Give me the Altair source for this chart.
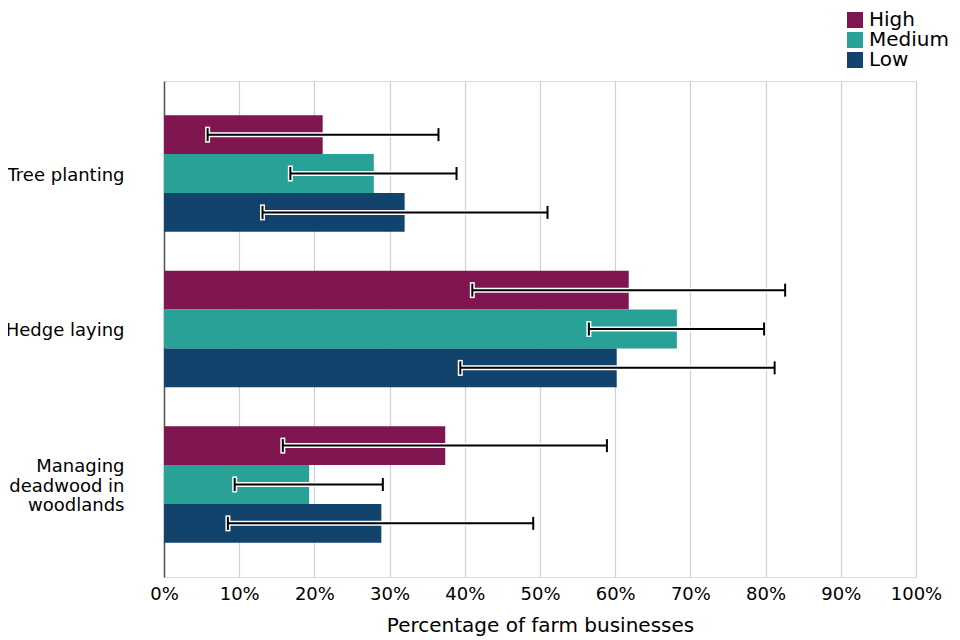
import altair as alt
import pandas as pd

categories = ["Tree planting", "Hedge laying", "Managing deadwood in woodlands"]
levels = ["High", "Medium", "Low"]
colors = ["#801650", "#28A197", "#12436D"]

high_vals = [21.1, 61.8, 37.4]
medium_vals = [27.9, 68.2, 19.3]
low_vals = [32.0, 60.2, 28.9]

high_lo = [5.8, 41.0, 15.8]
medium_lo = [16.8, 56.5, 9.4]
low_lo = [13.1, 39.4, 8.5]

high_hi = [36.5, 82.6, 58.9]
medium_hi = [38.9, 79.8, 29.1]
low_hi = [51.0, 81.2, 49.1]

rows = []
for lvl, vals, los, his in [
    ("High", high_vals, high_lo, high_hi),
    ("Medium", medium_vals, medium_lo, medium_hi),
    ("Low", low_vals, low_lo, low_hi),
]:
    for c, v, lo, hi in zip(categories, vals, los, his):
        rows.append({"category": c, "level": lvl, "value": v, "lo": lo, "hi": hi})
df = pd.DataFrame(rows)

FONT = "DejaVu Sans"

y_enc = alt.Y(
    "category:N",
    sort=categories,
    scale=alt.Scale(paddingInner=0.25, paddingOuter=0.22),
    axis=alt.Axis(
        title=None,
        ticks=False,
        labelPadding=40,
        labelFontSize=18,
        labelFont=FONT,
        labelColor="#000000",
        labelLineHeight=19.5,
        labelLimit=300,
        labelOffset={
            "condition": {
                "test": "datum.value == 'Managing deadwood in woodlands'",
                "value": -17,
            },
            "value": 2,
        },
        domainColor="#555555",
        domainWidth=1.5,
        grid=False,
        labelExpr="datum.value == 'Managing deadwood in woodlands' ? ['Managing', 'deadwood in', 'woodlands'] : datum.label",
    ),
)
yoff_enc = alt.YOffset(
    "level:N", sort=levels, scale=alt.Scale(paddingInner=0, paddingOuter=0)
)

x_scale = alt.Scale(domain=[0, 100])

base = alt.Chart(df)

bars = base.mark_bar().encode(
    x=alt.X(
        "value:Q",
        scale=x_scale,
        axis=alt.Axis(
            title="Percentage of farm businesses",
            values=[0, 10, 20, 30, 40, 50, 60, 70, 80, 90, 100],
            labelExpr="datum.value + '%'",
            ticks=False,
            domain=False,
            grid=True,
            gridColor="#d0d0d0",
            gridWidth=1.2,
            labelFlush=False,
            labelPadding=8,
            labelFontSize=18,
            labelFont=FONT,
            labelColor="#000000",
            titleFont=FONT,
            titleFontSize=20,
            titleFontWeight="normal",
            titleColor="#000000",
            titlePadding=12,
        ),
    ),
    y=y_enc,
    yOffset=yoff_enc,
    color=alt.Color(
        "level:N",
        sort=levels,
        scale=alt.Scale(domain=levels, range=colors),
        legend=alt.Legend(
            title=None,
            orient="none",
            legendX=681,
            legendY=-70,
            symbolType="square",
            symbolSize=256,
            symbolStrokeWidth=0,
            labelFontSize=20,
            labelFont=FONT,
            labelColor="#000000",
            labelOffset=4,
            rowPadding=0,
            clipHeight=18,
            padding=0,
        ),
    ),
)

halo = base.mark_rule(color="white", strokeWidth=5).encode(
    x=alt.X("lo:Q", scale=x_scale), x2="hi:Q", y=y_enc, yOffset=yoff_enc
)
halo_lo = base.mark_tick(color="white", thickness=5, size=16, opacity=1).encode(
    x=alt.X("lo:Q", scale=x_scale), y=y_enc, yOffset=yoff_enc
)
halo_hi = base.mark_tick(color="white", thickness=5, size=16, opacity=1).encode(
    x=alt.X("hi:Q", scale=x_scale), y=y_enc, yOffset=yoff_enc
)
rule = base.mark_rule(color="black", strokeWidth=2).encode(
    x=alt.X("lo:Q", scale=x_scale), x2="hi:Q", y=y_enc, yOffset=yoff_enc
)
cap_lo = base.mark_tick(color="black", thickness=2, size=13, opacity=1).encode(
    x=alt.X("lo:Q", scale=x_scale), y=y_enc, yOffset=yoff_enc
)
cap_hi = base.mark_tick(color="black", thickness=2, size=13, opacity=1).encode(
    x=alt.X("hi:Q", scale=x_scale), y=y_enc, yOffset=yoff_enc
)

chart = (
    alt.layer(bars, halo, halo_lo, halo_hi, rule, cap_lo, cap_hi)
    .properties(
        width=752,
        height=496,
        autosize=alt.AutoSizeParams(type="none"),
        padding={"left": 156, "top": 73, "right": 36, "bottom": 60},
    )
    .configure_view(strokeWidth=0, stroke="transparent")
    .configure(background="white")
)

chart.save("out.html", embed_options={"renderer": "svg", "actions": False})
